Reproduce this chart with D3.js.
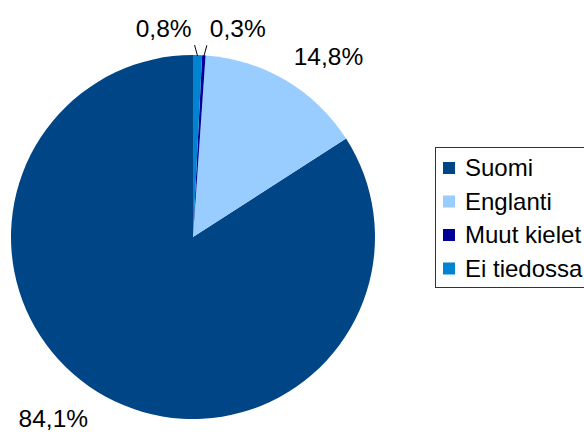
<!DOCTYPE html>
<html>
<head>
<meta charset="utf-8">
<script src="https://cdn.jsdelivr.net/npm/d3@7"></script>
<style>
  body { margin: 0; background: #fff; }
  text { font-family: "Liberation Sans", Arial, sans-serif; fill: #000; }
</style>
</head>
<body>
<svg id="chart" width="584" height="436"></svg>
<script>
var categories = ["Suomi", "Englanti", "Muut kielet", "Ei tiedossa"];
var values = [84.1, 14.8, 0.3, 0.8];
var labels = ["84,1%", "14,8%", "0,3%", "0,8%"];
var colors = ["#004586", "#99ccff", "#000099", "#0084d1"];

var svg = d3.select("#chart"),
  width = +svg.attr("width"),
  height = +svg.attr("height"),
  radius = 182,
  cx = 193, cy = 237;

var g = svg.append("g").attr("transform", "translate(" + cx + "," + cy + ")");

// counter-clockwise from 12 o'clock, in data order
var pie = d3.pie().sort(null).startAngle(0).endAngle(-2 * Math.PI);
var arcs = pie(values);

var arc = d3.arc().innerRadius(0).outerRadius(radius);

g.selectAll("path.slice")
  .data(arcs)
  .enter()
  .append("path")
  .attr("class", "slice")
  .attr("fill", function(d, i) { return colors[i]; })
  .attr("d", arc);

// labels
arcs.forEach(function(d, i) {
  var a = (d.startAngle + d.endAngle) / 2;
  var s = Math.sin(a), c = Math.cos(a);
  if (values[i] < 2) {
    // small slices: short leader line, labels pushed apart
    var side = categories[i] == "Ei tiedossa" ? -1 : 1;
    var x0 = radius * s, y0 = -radius * c;
    var x1 = x0 + side * 3, y1 = y0 - 10;
    g.append("line")
      .attr("x1", x0).attr("y1", y0 + 1)
      .attr("x2", x1).attr("y2", y1)
      .attr("stroke", "#000").attr("stroke-width", 1);
    g.append("text")
      .attr("x", x1 + (side < 0 ? -3 : 3))
      .attr("y", y1 - 8)
      .attr("text-anchor", side < 0 ? "end" : "start")
      .attr("font-size", 24.5)
      .text(labels[i]);
  } else {
    var r = radius + 10;
    var x = r * s, y = -r * c;
    g.append("text")
      .attr("x", x + (s > 0 ? 3 : -13))
      .attr("y", c > 0 ? y - 7 : y + 21)
      .attr("text-anchor", s > 0 ? "start" : "end")
      .attr("font-size", 24.5)
      .text(labels[i]);
  }
});

// legend
var lg = svg.append("g").attr("transform", "translate(435,147)");
lg.append("rect")
  .attr("x", 0.5).attr("y", 0.5)
  .attr("width", 170).attr("height", 140)
  .attr("fill", "#fff")
  .attr("stroke", "#333").attr("stroke-width", 1);

var rows = lg.selectAll("g.item")
  .data(categories)
  .enter()
  .append("g")
  .attr("class", "item")
  .attr("transform", function(d, i) { return "translate(0," + (21 + i * 33.5) + ")"; });

rows.append("rect")
  .attr("x", 8).attr("y", -6)
  .attr("width", 12).attr("height", 12)
  .attr("fill", function(d, i) { return colors[i]; });

rows.append("text")
  .attr("x", 30).attr("y", 8)
  .attr("font-size", 24)
  .text(function(d) { return d; });
</script>
</body>
</html>
